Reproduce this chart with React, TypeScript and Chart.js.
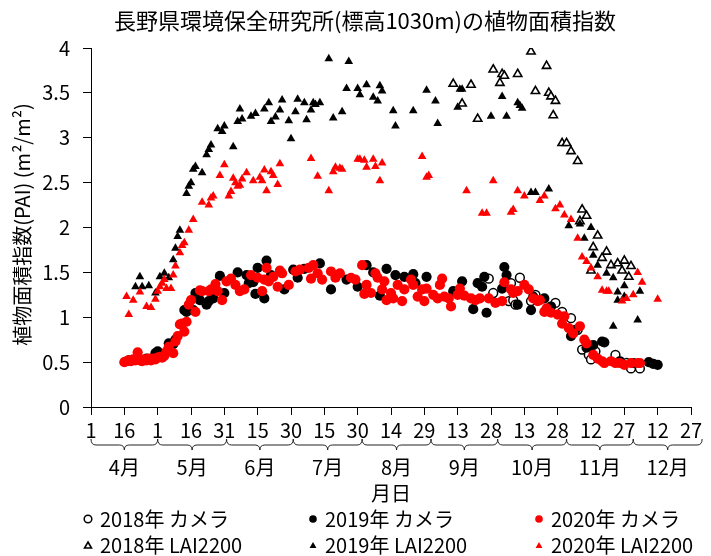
import { useEffect, useRef } from "react";
import { Chart, registerables } from "chart.js";

Chart.register(...registerables);

const FONT = '"Noto Sans CJK JP", "Noto Sans", sans-serif';
Chart.defaults.font.family = FONT;
Chart.defaults.color = "#000";

const chartTitle = "長野県環境保全研究所(標高1030m)の植物面積指数";
const yAxisTitle = "植物面積指数(PAI) (m²/m²)";
const xAxisTitle = "月日";

// x is the number of days since 1 April
const xTickLabels = ["1", "16", "1", "16", "31", "15", "30", "15", "30", "14", "29", "13", "28", "13", "28", "12", "27", "12", "27"];
const yTickLabels = ["0", "0.5", "1", "1.5", "2", "2.5", "3", "3.5", "4"];
const monthLabels = ["4月", "5月", "6月", "7月", "8月", "9月", "10月", "11月", "12月"];
const monthStarts = [0, 30, 61, 91, 122, 153, 183, 214, 244, 275];

type Pt = [number, number];

const camera2018: Pt[] = [
  [179, 1.43], [181, 1.27], [188, 1.18], [189, 1.38], [190, 1.19], [191, 1.14], [193, 1.44], [198, 1.18],
  [200, 1.25], [209, 1.16], [212, 1.06], [216, 0.99], [219, 0.86], [221, 0.64], [224, 0.58], [225, 0.53],
  [227, 0.62], [236, 0.58], [241, 0.49], [243, 0.43], [247, 0.43],
];

const camera2019: Pt[] = [
  [17, 0.52], [21, 0.53], [25, 0.54], [29, 0.6], [30, 0.62], [35, 0.71], [37, 0.7], [38, 0.75], [42, 1.08],
  [43, 1.06], [46, 1.08], [47, 1.27], [49, 1.19], [52, 1.14], [53, 1.18], [55, 1.21], [58, 1.46], [60, 1.27],
  [66, 1.5], [70, 1.47], [71, 1.38], [73, 1.39], [74, 1.26], [75, 1.55], [78, 1.21], [79, 1.63], [81, 1.47],
  [87, 1.31], [91, 1.53], [93, 1.44], [96, 1.54], [103, 1.6], [108, 1.31], [115, 1.42], [120, 1.34],
  [124, 1.58], [127, 1.5], [130, 1.24], [133, 1.54], [137, 1.47], [141, 1.45], [145, 1.48], [146, 1.38],
  [151, 1.45], [163, 1.29], [167, 1.4], [172, 1.09], [174, 1.38], [176, 1.34], [177, 1.45], [178, 1.05],
  [185, 1.32], [186, 1.56], [187, 1.47], [192, 1.14], [198, 1.08], [199, 1.23], [204, 1.21], [207, 1.12],
  [216, 0.79], [218, 0.86], [223, 0.66], [226, 0.69], [230, 0.73], [231, 0.72], [238, 0.51], [244, 0.49],
  [251, 0.5], [253, 0.48], [255, 0.47],
];

const camera2020: Pt[] = [
  [15, 0.5], [16, 0.51], [17, 0.52], [18, 0.51], [19, 0.53], [20, 0.52], [21, 0.61], [22, 0.52], [23, 0.51],
  [24, 0.53], [25, 0.52], [26, 0.54], [27, 0.52], [28, 0.54], [29, 0.53], [30, 0.55], [31, 0.56], [32, 0.55],
  [33, 0.57], [34, 0.62], [35, 0.67], [37, 0.6], [38, 0.73], [39, 0.79], [40, 0.92], [41, 0.93], [42, 0.84],
  [43, 0.95], [44, 1.14], [45, 1.19], [47, 1.06], [49, 1.3], [50, 1.29], [53, 1.29], [54, 1.31], [56, 1.37],
  [57, 1.29], [59, 1.19], [61, 1.4], [63, 1.43], [65, 1.36], [67, 1.29], [69, 1.31], [72, 1.47], [75, 1.44],
  [77, 1.29], [78, 1.42], [79, 1.55], [80, 1.4], [82, 1.45], [84, 1.34], [85, 1.52], [86, 1.49], [89, 1.36],
  [92, 1.51], [94, 1.53], [98, 1.55], [99, 1.43], [100, 1.58], [102, 1.49], [104, 1.42], [108, 1.51],
  [110, 1.44], [112, 1.49], [117, 1.44], [119, 1.42], [122, 1.58], [123, 1.26], [124, 1.36], [126, 1.27],
  [128, 1.49], [129, 1.44], [131, 1.31], [132, 1.4], [133, 1.19], [135, 1.27], [136, 1.21], [138, 1.36],
  [140, 1.18], [141, 1.31], [144, 1.42], [145, 1.36], [147, 1.23], [149, 1.31], [150, 1.18], [151, 1.32],
  [154, 1.25], [156, 1.21], [157, 1.36], [158, 1.43], [159, 1.23], [161, 1.21], [162, 1.12], [165, 1.25],
  [166, 1.32], [168, 1.24], [171, 1.21], [173, 1.19], [175, 1.21], [179, 1.21], [182, 1.16], [185, 1.18],
  [186, 1.39], [189, 1.31], [190, 1.27], [192, 1.29], [195, 1.36], [197, 1.31], [199, 1.21], [201, 1.18],
  [202, 1.19], [204, 1.06], [205, 1.1], [207, 1.05], [210, 1.03], [212, 0.93], [213, 1.01], [215, 0.88],
  [217, 0.82], [220, 0.9], [222, 0.75], [223, 0.71], [226, 0.58], [228, 0.54], [230, 0.51], [231, 0.49],
  [234, 0.51], [236, 0.49], [238, 0.49], [240, 0.47], [243, 0.49], [246, 0.49], [247, 0.49],
];

const lai2018: Pt[] = [
  [163, 3.6], [167, 3.38], [171, 3.59], [174, 3.21], [181, 3.76], [184, 3.61], [185, 3.71], [186, 3.69],
  [192, 3.71], [198, 3.96], [200, 3.52], [205, 3.8], [206, 3.5], [207, 3.46], [208, 3.25], [209, 3.41],
  [212, 2.94], [214, 2.94], [216, 2.85], [219, 2.74], [220, 2.07], [221, 2.2], [223, 2.13], [225, 1.52],
  [226, 1.78], [228, 1.91], [230, 1.66], [232, 1.73], [234, 1.58], [237, 1.6], [239, 1.52], [240, 1.63],
  [242, 1.45], [243, 1.57],
];

const lai2019: Pt[] = [
  [20, 1.34], [22, 1.45], [23, 1.34], [26, 1.35], [29, 1.27], [31, 1.45], [33, 1.49], [35, 1.44], [37, 1.64],
  [38, 1.77], [39, 1.9], [40, 1.97], [43, 2.38], [44, 2.46], [45, 2.5], [46, 2.65], [47, 2.68], [50, 2.61],
  [52, 2.81], [53, 2.87], [54, 2.92], [57, 3.1], [59, 3.07], [60, 3.13], [64, 2.9], [66, 3.18], [67, 3.32],
  [68, 3.21], [72, 3.24], [74, 3.27], [78, 3.32], [80, 3.39], [81, 3.18], [83, 3.23], [85, 3.31], [86, 3.42],
  [89, 3.19], [90, 2.99], [92, 3.29], [93, 3.43], [96, 3.39], [97, 3.2], [99, 3.31], [100, 3.39], [101, 3.37],
  [103, 3.39], [107, 3.88], [109, 3.22], [113, 3.29], [115, 3.55], [116, 3.85], [120, 3.55], [121, 3.48],
  [124, 3.59], [127, 3.45], [129, 3.41], [130, 3.58], [131, 3.52], [136, 3.3], [137, 3.13], [145, 3.3],
  [151, 3.53], [155, 3.41], [156, 3.16], [165, 3.34], [166, 3.54], [167, 3.54], [180, 3.24], [185, 3.46],
  [187, 3.24], [192, 3.39], [193, 3.36], [194, 3.33], [198, 2.39], [200, 2.39], [206, 2.43], [215, 2.02],
  [220, 2.04], [222, 1.88], [225, 2.0], [226, 1.69], [228, 1.58], [232, 1.49], [235, 1.44], [235, 0.9],
  [237, 1.28], [237, 1.19], [240, 1.35], [240, 1.23], [246, 0.97], [247, 1.29],
];

const lai2020: Pt[] = [
  [16, 1.23], [17, 1.03], [19, 1.19], [22, 1.28], [25, 1.12], [27, 1.11], [29, 1.2], [30, 1.29], [31, 1.34],
  [32, 1.38], [33, 1.42], [34, 1.32], [36, 1.32], [37, 1.47], [38, 1.57], [40, 1.72], [41, 1.8], [42, 1.83],
  [44, 1.97], [46, 2.09], [50, 2.28], [53, 2.25], [54, 2.33], [55, 2.35], [58, 2.58], [60, 2.7], [62, 2.35],
  [63, 2.4], [64, 2.55], [65, 2.5], [66, 2.46], [67, 2.47], [68, 2.54], [70, 2.61], [73, 2.52], [76, 2.56],
  [77, 2.52], [78, 2.64], [79, 2.41], [81, 2.62], [82, 2.58], [84, 2.48], [85, 2.71], [99, 2.77], [102, 2.57],
  [107, 2.41], [109, 2.62], [110, 2.67], [112, 2.66], [113, 2.65], [120, 2.76], [121, 2.76], [123, 2.75],
  [124, 2.67], [127, 2.76], [128, 2.68], [130, 2.52], [131, 2.72], [149, 2.79], [151, 2.56], [152, 2.58],
  [169, 2.41], [176, 2.16], [178, 2.16], [181, 2.52], [189, 2.17], [190, 2.2], [192, 2.41], [195, 2.35],
  [202, 2.3], [204, 2.35], [209, 2.21], [211, 2.25], [213, 2.14], [216, 2.09], [219, 1.88], [221, 1.67],
  [223, 1.62], [225, 1.55], [228, 1.45], [230, 1.3], [232, 1.29], [233, 1.29], [239, 1.18], [241, 1.21],
  [244, 1.25], [246, 1.5], [248, 1.39], [255, 1.2],
];

const seriesLabels = ["2018年 カメラ", "2019年 カメラ", "2020年 カメラ", "2018年 LAI2200", "2019年 LAI2200", "2020年 LAI2200"];

type Marker = { shape: "circle" | "triangle"; fill: string; stroke: string; strokeWidth: number; radius: number };

const markers: Marker[] = [
  { shape: "circle", fill: "#fff", stroke: "#000", strokeWidth: 1.5, radius: 4.4 },
  { shape: "circle", fill: "#000", stroke: "#000", strokeWidth: 0, radius: 5.1 },
  { shape: "circle", fill: "#ff0000", stroke: "#ff0000", strokeWidth: 0, radius: 5.1 },
  { shape: "triangle", fill: "#fff", stroke: "#000", strokeWidth: 1.6, radius: 4.8 },
  { shape: "triangle", fill: "#000", stroke: "#000", strokeWidth: 0, radius: 5 },
  { shape: "triangle", fill: "#ff0000", stroke: "#ff0000", strokeWidth: 0, radius: 5 },
];

const seriesData = [camera2018, camera2019, camera2020, lai2018, lai2019, lai2020];
// later series are painted over earlier ones
const drawOrder = [6, 5, 4, 3, 2, 1];

function drawMarker(ctx: CanvasRenderingContext2D, m: Marker, x: number, y: number, r: number) {
  ctx.beginPath();
  if (m.shape === "circle") {
    ctx.arc(x, y, r, 0, Math.PI * 2);
  } else {
    ctx.moveTo(x, y - r);
    ctx.lineTo(x + r * Math.sin((2 * Math.PI) / 3), y + r / 2);
    ctx.lineTo(x - r * Math.sin((2 * Math.PI) / 3), y + r / 2);
    ctx.closePath();
  }
  ctx.fillStyle = m.fill;
  ctx.fill();
  if (m.strokeWidth > 0) {
    ctx.lineWidth = m.strokeWidth;
    ctx.strokeStyle = m.stroke;
    ctx.stroke();
  }
}

const decorations = {
  id: "decorations",
  afterDraw(chart: any) {
    const { ctx, chartArea, scales } = chart;
    const xs = scales.x;
    ctx.save();
    ctx.fillStyle = "#000";
    ctx.textAlign = "center";
    ctx.textBaseline = "middle";

    ctx.font = `22px ${FONT}`;
    ctx.fillText(chartTitle, 365, 21);

    ctx.save();
    ctx.translate(22, (chartArea.top + chartArea.bottom) / 2 - 3);
    ctx.rotate(-Math.PI / 2);
    ctx.font = `20px ${FONT}`;
    ctx.fillText(yAxisTitle, 0, 0);
    ctx.restore();

    // month braces under the day ticks
    ctx.font = `20px ${FONT}`;
    ctx.strokeStyle = "#222";
    ctx.lineWidth = 1;
    const yTop = chartArea.bottom + 32;
    const yMid = yTop + 6;
    const yTip = yTop + 11;
    for (let i = 0; i < monthLabels.length; i++) {
      const x0 = xs.getPixelForValue(monthStarts[i]);
      const x1 = xs.getPixelForValue(monthStarts[i + 1]);
      const xm = (x0 + x1) / 2;
      ctx.beginPath();
      ctx.moveTo(x0, yTop);
      ctx.quadraticCurveTo(x0, yMid, x0 + 5, yMid);
      ctx.lineTo(xm - 5, yMid);
      ctx.quadraticCurveTo(xm, yMid, xm, yTip);
      ctx.quadraticCurveTo(xm, yMid, xm + 5, yMid);
      ctx.lineTo(x1 - 5, yMid);
      ctx.quadraticCurveTo(x1, yMid, x1, yTop);
      ctx.stroke();
      ctx.fillText(monthLabels[i], xm, chartArea.bottom + 60);
    }

    ctx.fillText(xAxisTitle, (chartArea.left + chartArea.right) / 2, chartArea.bottom + 86);

    // legend: three columns, two rows
    const colMarker = [88, 313, 539];
    const colText = [100, 325, 551];
    const rowY = [519, 545];
    ctx.textAlign = "left";
    for (let i = 0; i < seriesLabels.length; i++) {
      const col = i % 3;
      const row = Math.floor(i / 3);
      const m = markers[i];
      drawMarker(ctx, m, colMarker[col], rowY[row] + (m.shape === "triangle" ? 1 : 0), m.shape === "circle" ? 3.8 : 4);
      ctx.fillStyle = "#000";
      ctx.fillText(seriesLabels[i], colText[col], rowY[row]);
    }
    ctx.restore();
  },
};

export default function App() {
  const canvasRef = useRef<HTMLCanvasElement | null>(null);

  useEffect(() => {
    const canvas = canvasRef.current;
    if (!canvas) return;
    const datasets = seriesData.map((pts, i) => ({
      label: seriesLabels[i],
      data: pts.map(([x, y]) => ({ x, y })),
      order: drawOrder[i],
      pointStyle: markers[i].shape,
      pointRadius: markers[i].radius,
      pointBackgroundColor: markers[i].fill,
      pointBorderColor: markers[i].stroke,
      pointBorderWidth: markers[i].strokeWidth,
      showLine: false,
    }));

    const axisGrid = { drawOnChartArea: false, drawTicks: true, tickLength: 8, color: "#000", lineWidth: 1 };
    const chart = new Chart(canvas, {
      type: "scatter",
      data: { datasets },
      plugins: [decorations],
      options: {
        responsive: false,
        animation: false,
        events: [],
        layout: { padding: { top: 48, right: 20, left: 0, bottom: 0 } },
        plugins: { legend: { display: false }, tooltip: { enabled: false }, title: { display: false } },
        scales: {
          x: {
            type: "linear",
            min: 0,
            max: 270,
            afterFit: (s: any) => {
              s.height = 149;
            },
            ticks: {
              stepSize: 15,
              autoSkip: false,
              maxRotation: 0,
              padding: 3,
              font: { size: 20 },
              color: "#000",
              callback: (_v: any, i: number) => xTickLabels[i],
            },
            grid: axisGrid,
            border: { color: "#000", width: 1 },
          },
          y: {
            type: "linear",
            min: 0,
            max: 4,
            afterFit: (s: any) => {
              s.width = 91;
            },
            ticks: {
              stepSize: 0.5,
              padding: 13,
              font: { size: 20 },
              color: "#000",
              callback: (_v: any, i: number) => yTickLabels[i],
            },
            grid: axisGrid,
            border: { color: "#000", width: 1 },
          },
        },
      } as any,
    });
    return () => chart.destroy();
  }, []);

  return (
    <div style={{ position: "absolute", left: 0, top: 0, width: 711, height: 556, background: "#fff" }}>
      <canvas ref={canvasRef} width={711} height={556} style={{ display: "block" }} />
    </div>
  );
}
